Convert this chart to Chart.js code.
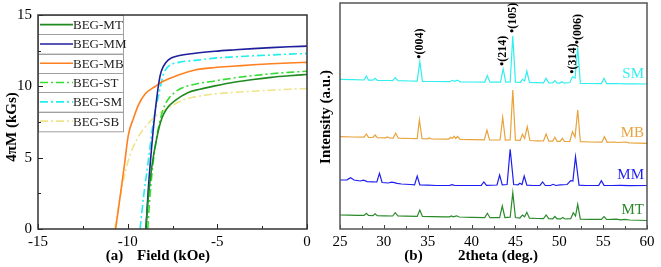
<!DOCTYPE html>
<html><head><meta charset="utf-8">
<script src="https://cdn.jsdelivr.net/npm/chart.js@4/dist/chart.umd.min.js"></script>
<style>
html,body{margin:0;padding:0;background:#fff;width:661px;height:267px;overflow:hidden}
#ca{position:absolute;left:0;top:0}
#cb{position:absolute;left:315px;top:0}
</style></head><body>
<canvas id="ca" width="330" height="267"></canvas>
<canvas id="cb" width="346" height="267"></canvas>
<script>
// ---------- Panel (a): demagnetization curves ----------
const seriesA = ['BEG-MT','BEG-MM','BEG-MB','BEG-ST','BEG-SM','BEG-SB'];
const fieldMT = [-8.99,-8.85,-8.66,-8.38,-8.1,-7.82,-7.36,-6.62,-5.97,-5.13,-4,-3,-2,-1,0];
const magMT   = [0,2.2,4.3,6.36,7.74,8.43,9.0,9.57,9.8,10.03,10.3,10.48,10.63,10.74,10.83];
const fieldMM = [-8.98,-8.87,-8.73,-8.47,-8.2,-8.01,-7.73,-7.17,-6.24,-5.13,-4,-3,-2,-1,0];
const magMM   = [0,2.4,4.76,8.2,10.7,11.4,11.86,12.14,12.32,12.46,12.56,12.64,12.71,12.77,12.82];
const fieldMB = [-10.67,-10.45,-10.2,-9.96,-9.68,-9.41,-9.03,-8.47,-8.1,-7.17,-6.24,-5.13,-4,-3,-2,-1,0];
const magMB   = [0,2.0,4.3,6.6,7.74,8.66,9.46,9.99,10.3,10.8,11.15,11.32,11.42,11.51,11.58,11.64,11.68];
const fieldST = [-8.88,-8.75,-8.57,-8.29,-8.01,-7.73,-7.17,-6.24,-5.13,-4,-3,-2,-1,0];
const magST   = [0,2.4,4.76,7.05,8.43,9.11,9.76,10.15,10.38,10.6,10.75,10.88,10.98,11.06];
const fieldSM = [-9.31,-9.1,-8.85,-8.57,-8.2,-8.01,-7.73,-7.17,-6.24,-5.13,-4,-3,-2,-1,0];
const magSM   = [0,2.4,4.76,7.5,9.8,10.83,11.4,11.68,11.82,11.98,12.07,12.14,12.2,12.26,12.3];
const fieldSB = [-10.72,-10.32,-9.94,-9.48,-8.92,-8.3,-7.6,-6.8,-5.97,-5.13,-4,-3,-2,-1,0];
const magSB   = [0,2.9,4.9,6.3,7.3,8.05,8.6,9.1,9.32,9.47,9.58,9.66,9.73,9.8,9.85];
const xTicksA = [-15,-10,-5,0];
const yTicksA = [0,5,10,15];

// ---------- Panel (b): XRD patterns ----------
const xrdNames = ['MT','MM','MB','SM'];
const xrdMT = [[25,6.0],[26,5.9],[27,5.6],[27.75,5.6],[28,7.7],[28.25,5.5],[28.75,5.4],[29,7.3],[29.25,5.3],[30,5.2],[31,5.0],[31.3,8.3],[31.6,5.0],[32.5,4.9],[33.8,4.6],[34.1,11],[34.4,4.5],[35.5,4.4],[37,4.2],[37.5,4.1],[37.7,5.0],[37.9,4.2],[38.3,5.2],[38.6,4.0],[40,3.6],[41.5,3.4],[41.8,7.7],[42.1,3.3],[43.2,3.3],[43.5,15],[43.8,3.5],[44.4,3.8],[44.7,28.3],[45,3.5],[45.5,3.0],[45.8,6.0],[46.05,4.2],[46.3,8.7],[46.6,2.8],[47.5,2.5],[48.2,2.4],[48.5,6.0],[48.8,2.3],[49.25,2.2],[49.5,4.5],[49.75,2.1],[50.15,2.1],[50.4,3.5],[50.65,2.0],[51.3,2.3],[51.6,8.3],[51.85,5.0],[52.1,16.7],[52.4,1.9],[53.5,1.7],[54.8,1.6],[55.1,4.3],[55.4,1.5],[56.5,1.8],[57,1.2],[57.5,1.6],[58,1.0],[60,0.5]];
const xrdMM = [[25,6],[25.8,6.2],[26.2,8.3],[26.6,6],[27.3,5.0],[27.7,5.8],[28.1,4.4],[28.7,4.2],[29.2,4.0],[29.5,12.7],[29.8,3.5],[30.5,3.0],[30.9,3.8],[31.2,3.4],[31.5,2.6],[32,2.0],[33,1.5],[33.5,1.2],[33.8,10],[34.1,1.0],[35,0.8],[36,0.5],[37.5,0.6],[37.8,1.3],[38.1,0.5],[40,0.5],[41.1,0.7],[41.4,4],[41.7,0.6],[42.9,1.0],[43.2,11],[43.5,1.2],[44.05,1.5],[44.4,36.7],[44.8,1.5],[45.3,1.2],[45.5,2.7],[45.75,1.5],[46.0,10],[46.3,0.8],[47,0.5],[47.8,0.6],[48.1,4],[48.4,0.5],[49,0.5],[49.3,1.7],[49.6,0.5],[50.1,1.2],[50.9,1.5],[51.3,5.3],[51.55,5.0],[51.85,29.3],[52.25,0.8],[53,0.5],[54.5,0.7],[54.8,5.3],[55.1,0.6],[56,0.5],[57,0.6],[58,0.4],[60,0.5]];
const xrdMB = [[25,8.3],[26.5,8.0],[27.75,7.8],[28,11],[28.25,7.6],[28.75,7.5],[29,10],[29.25,7.4],[30.2,7.2],[30.4,8],[30.6,7.0],[31.05,6.9],[31.35,11.7],[31.65,6.8],[33,6.5],[33.8,6.4],[34.05,25],[34.35,6.3],[35,6.2],[35.2,7.0],[35.4,6.1],[37,5.8],[37.4,5.8],[37.6,7.7],[37.8,6.5],[38,8.7],[38.2,6.5],[38.4,8.5],[38.7,5.6],[40,5.3],[41.45,5.1],[41.75,15],[42.05,5.0],[42.5,5.0],[43.25,5.0],[43.55,27.7],[43.85,4.8],[44.4,5.0],[44.7,55],[45,4.8],[45.55,4.7],[45.8,10.7],[46.05,6.5],[46.35,18.3],[46.65,4.5],[47.5,4.2],[48.2,4.0],[48.5,11],[48.8,3.9],[49.25,3.8],[49.5,7.7],[49.75,3.7],[50.1,3.6],[50.35,6.7],[50.6,3.5],[51.2,3.6],[51.5,13.3],[51.8,8],[52.1,35],[52.4,3.3],[53.5,3.0],[54.85,2.8],[55.15,8.3],[55.45,2.7],[56.3,3.0],[56.6,2.5],[57.5,3.0],[58,2.2],[60,1.7]];
const xrdSM = [[25,5.7],[26.5,5.4],[27.75,5.0],[28,9],[28.25,4.9],[28.75,4.8],[29,6.7],[29.25,4.7],[30.5,4.5],[31,4.4],[31.3,7.3],[31.6,4.3],[33,4.0],[33.8,3.8],[34.1,23.3],[34.4,3.7],[35.5,3.5],[37.5,3.3],[37.8,4.7],[38.1,3.6],[38.4,4.9],[38.7,3.2],[40,3.0],[41.5,2.9],[41.8,9.3],[42.1,2.8],[43.3,2.9],[43.6,16],[43.9,2.9],[44.4,3.0],[44.7,49],[45,2.9],[45.55,2.7],[45.8,5.7],[46.05,4.0],[46.3,14],[46.6,2.5],[47.5,2.3],[48.2,2.2],[48.5,6.7],[48.8,2.1],[49.25,2.0],[49.5,4.3],[49.75,1.9],[50.05,1.9],[50.3,3.3],[50.55,1.8],[51.2,2.5],[51.5,8.3],[51.8,7],[52.1,37.7],[52.4,1.7],[53.5,1.5],[54.8,1.4],[55.1,6.7],[55.4,1.3],[56.5,1.5],[57.5,1.2],[58.5,1.1],[60,1.0]];
const xrdOffset = [8, 43, 84, 144];
const peakHkl   = ['(004)','(214)','(105)','(314)','(006)'];
const peakTheta = [34.1, 43.6, 44.7, 51.5, 52.1];
const xTicksB = [25,30,35,40,45,50,55,60];

const SERIF = '"Liberation Serif", "Times New Roman", serif';
Chart.defaults.font.family = SERIF;
Chart.defaults.color = '#000';

function zip(xs, ys){ return xs.map((x,i)=>({x:x, y:ys[i]})); }

function inwardTicks(chart, o){
  const ctx = chart.ctx, a = chart.chartArea;
  ctx.save();
  ctx.strokeStyle = o.tickColor; ctx.lineWidth = 1;
  const xs = chart.scales.x;
  for (let v = xs.min; v <= xs.max + 1e-9; v += o.xMinor){
    const px = Math.round(xs.getPixelForValue(v)) + 0.5;
    const major = Math.abs(v/o.xMajor - Math.round(v/o.xMajor)) < 1e-6;
    const L = major ? o.major : o.minor;
    ctx.beginPath(); ctx.moveTo(px, a.bottom); ctx.lineTo(px, a.bottom - L); ctx.stroke();
  }
  if (o.yMinor){
    const ys = chart.scales.y;
    for (let v = ys.min; v <= ys.max + 1e-9; v += o.yMinor){
      const py = Math.round(ys.getPixelForValue(v)) + 0.5;
      const major = Math.abs(v/o.yMajor - Math.round(v/o.yMajor)) < 1e-6;
      const L = major ? o.major : o.minor;
      ctx.beginPath(); ctx.moveTo(a.left, py); ctx.lineTo(a.left + L, py); ctx.stroke();
    }
  }
  ctx.strokeStyle = o.frameColor; ctx.lineWidth = o.frameWidth;
  ctx.strokeRect(a.left, a.top, a.right - a.left, a.bottom - a.top);
  ctx.restore();
}

function text(ctx, s, x, y, font, rot, align){
  ctx.save();
  ctx.translate(x, y);
  if (rot) ctx.rotate(-Math.PI/2);
  ctx.font = font; ctx.fillStyle = '#000';
  ctx.textAlign = align || 'center'; ctx.textBaseline = 'middle';
  ctx.fillText(s, 0, 0);
  ctx.restore();
}

// ---------- Chart (a) ----------
const colorsA = ['#1f8a1f','#1f1f9c','#ff8020','#33dd33','#22eeee','#eee48a'];
const dashA = [[],[],[],[8,3,2,3],[8,3,2,3],[8,3,2,3]];
const dataA = [zip(fieldMT,magMT), zip(fieldMM,magMM), zip(fieldMB,magMB), zip(fieldST,magST), zip(fieldSM,magSM), zip(fieldSB,magSB)];

const panelA = {
  id:'panelA',
  afterDraw(chart){
    const ctx = chart.ctx, a = chart.chartArea;
    // legend
    const x0 = a.left, x1 = 123, rowH = 19.3;
    chart.data.datasets.forEach((ds,i)=>{
      const top = a.top + i*rowH;
      ctx.save();
      ctx.fillStyle = '#fff'; ctx.fillRect(x0, top, x1-x0, rowH);
      ctx.strokeStyle = '#a0a0a0'; ctx.lineWidth = 1;
      ctx.strokeRect(x0+0.5, Math.round(top)+0.5, x1-x0, rowH);
      ctx.strokeStyle = ds.borderColor; ctx.lineWidth = 1.6; ctx.setLineDash(ds.borderDash || []);
      ctx.beginPath(); ctx.moveTo(x0+2, top+rowH/2); ctx.lineTo(x0+35, top+rowH/2); ctx.stroke();
      ctx.setLineDash([]);
      ctx.font = '13px ' + SERIF; ctx.fillStyle = '#222'; ctx.textAlign = 'left'; ctx.textBaseline = 'middle';
      ctx.fillText(ds.label, x0+35, top+rowH/2+1);
      ctx.restore();
    });
    inwardTicks(chart, {tickColor:'#222', xMinor:2.5, xMajor:5, yMinor:2.5, yMajor:5, major:5, minor:3, frameColor:'#333', frameWidth:1.5});
    text(ctx, '4πM (kGs)', 12.5, 127, 'bold 15px ' + SERIF, true);
    text(ctx, '(a)', 114.5, 256, 'bold 15px ' + SERIF);
    text(ctx, 'Field (kOe)', 173.5, 256, 'bold 15px ' + SERIF);
  }
};

new Chart(document.getElementById('ca'), {
  type:'line',
  data:{ datasets: seriesA.map((n,i)=>({
    label:n, data:dataA[i], borderColor:colorsA[i], borderDash:dashA[i], borderWidth:1.6,
    pointRadius:0, fill:false, cubicInterpolationMode:'monotone'
  })) },
  options:{
    responsive:false, animation:false, devicePixelRatio:1,
    layout:{padding:{left:0, right:23, top:11, bottom:0}},
    plugins:{legend:{display:false}, tooltip:{enabled:false}},
    scales:{
      x:{type:'linear', min:-15, max:0, afterBuildTicks(s){ s.ticks = xTicksA.map(v=>({value:v})); },
         afterFit(s){ s.height = 38; },
         grid:{display:false, drawTicks:false}, border:{display:false},
         ticks:{font:{size:15}, padding:4, maxRotation:0, color:'#000'}},
      y:{type:'linear', min:0, max:15, afterBuildTicks(s){ s.ticks = yTicksA.map(v=>({value:v})); },
         afterFit(s){ s.width = 38; },
         grid:{display:false, drawTicks:false}, border:{display:false},
         ticks:{font:{size:15}, padding:6, color:'#000'}}
    }
  },
  plugins:[panelA]
});

// ---------- Chart (b) ----------
const colorsB = ['#2a8a2a','#1e1ef0','#e8a33d','#33eeee'];
const dataB = [xrdMT, xrdMM, xrdMB, xrdSM].map((arr,i)=>arr.map(p=>({x:p[0], y:p[1] + xrdOffset[i]})));

const panelB = {
  id:'panelB',
  afterDraw(chart){
    const ctx = chart.ctx, a = chart.chartArea, xs = chart.scales.x, ys = chart.scales.y;
    inwardTicks(chart, {tickColor:'#444', xMinor:2.5, xMajor:5, major:4, minor:3, frameColor:'#555', frameWidth:1.5});
    // series names
    chart.data.datasets.forEach((ds,i)=>{
      const last = ds.data[ds.data.length-1];
      ctx.save();
      ctx.font = '15px ' + SERIF; ctx.fillStyle = ds.borderColor;
      ctx.textAlign = 'right'; ctx.textBaseline = 'middle';
      ctx.fillText(xrdNames[i], a.right - 3, ys.getPixelForValue(last.y) - 10);
      ctx.restore();
    });
    // peak indices above SM pattern
    const sm = chart.data.datasets[3].data;
    peakHkl.forEach((h,i)=>{
      let best = sm[0];
      sm.forEach(p=>{ if (Math.abs(p.x-peakTheta[i]) < Math.abs(best.x-peakTheta[i])) best = p; });
      const px = xs.getPixelForValue(peakTheta[i]);
      const py = ys.getPixelForValue(best.y) - 3;
      text(ctx, '•' + h, px, py, 'bold 12px ' + SERIF, true, 'left');
    });
    text(ctx, 'Intensity (a.u.)', 11.5, 117, 'bold 15px ' + SERIF, true);
    text(ctx, '(b)', 98.5, 256, 'bold 15px ' + SERIF);
    text(ctx, '2theta (deg.)', 183, 256, 'bold 15px ' + SERIF);
  }
};

new Chart(document.getElementById('cb'), {
  type:'line',
  data:{ datasets: xrdNames.map((n,i)=>({
    label:n, data:dataB[i], borderColor:colorsB[i], borderWidth:1.2, pointRadius:0, fill:false, tension:0
  })) },
  options:{
    responsive:false, animation:false, devicePixelRatio:1,
    layout:{padding:{left:25, right:14, top:3, bottom:0}},
    plugins:{legend:{display:false}, tooltip:{enabled:false}},
    scales:{
      x:{type:'linear', min:25, max:60, afterBuildTicks(s){ s.ticks = xTicksB.map(v=>({value:v})); },
         afterFit(s){ s.height = 38; },
         grid:{display:false, drawTicks:false}, border:{display:false},
         ticks:{font:{size:15}, padding:4, maxRotation:0, color:'#000'}},
      y:{type:'linear', min:0, max:226, display:false}
    }
  },
  plugins:[panelB]
});
</script>
</body></html>
